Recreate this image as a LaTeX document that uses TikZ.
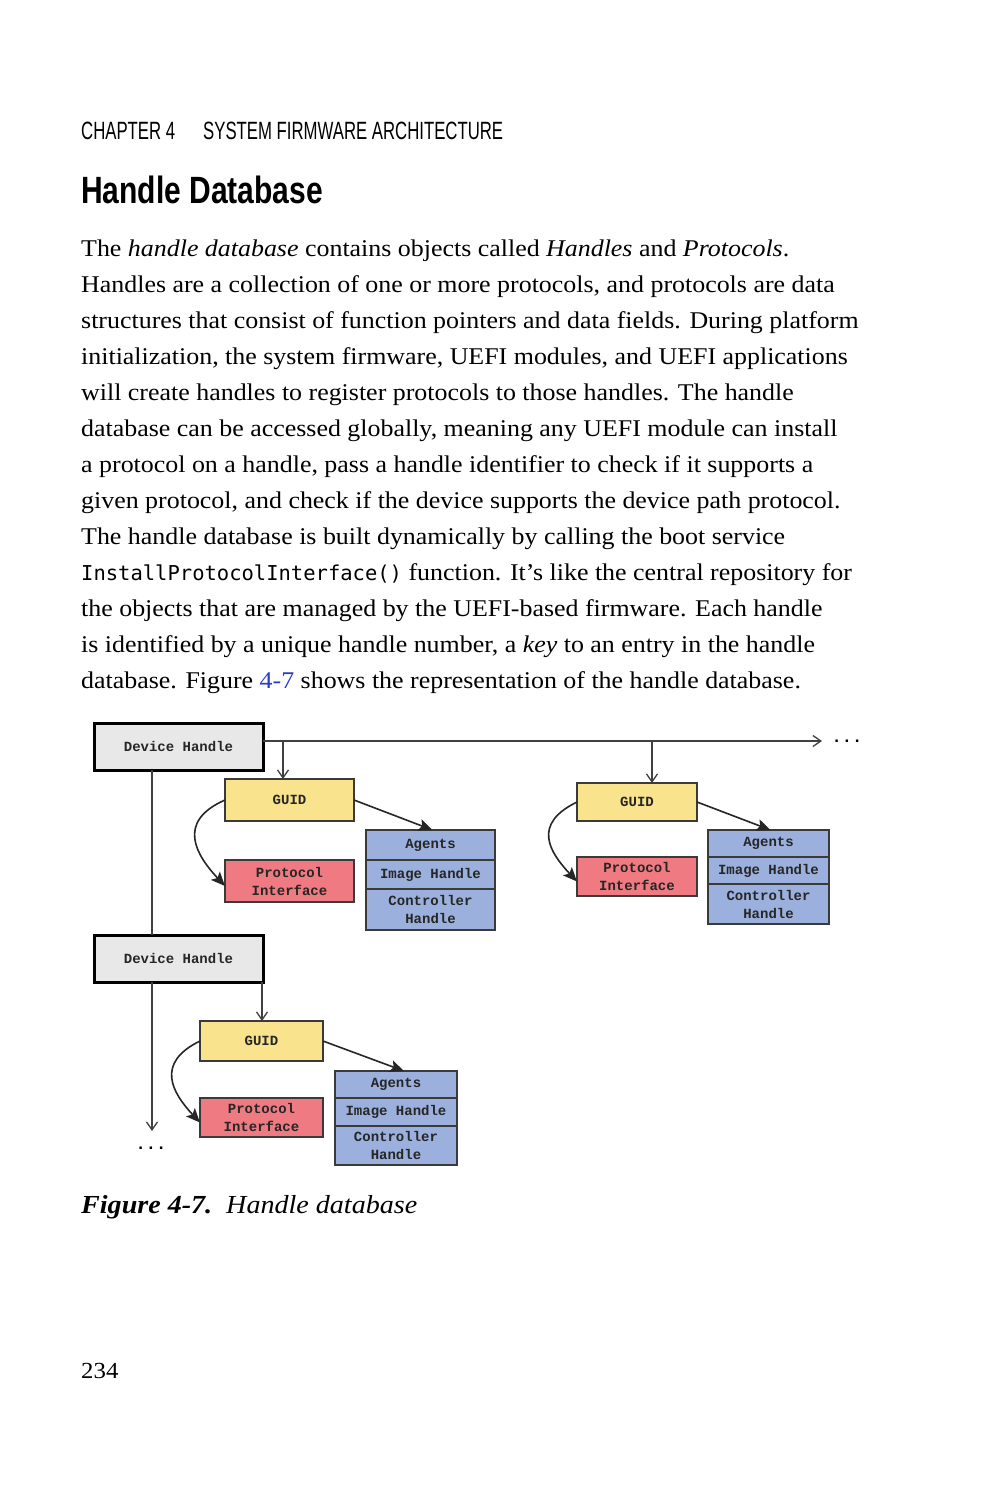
\documentclass[tikz,border=0pt]{standalone}
\usepackage{fontspec}
\usepackage{xcolor}
\setmainfont[FakeStretch=1.08]{Liberation Serif}
\setmonofont{Liberation Mono}
\newfontfamily\headfont[FakeStretch=0.67]{Liberation Sans}
\newfontfamily\sectfont[FakeStretch=0.79]{Liberation Sans}
\newfontfamily\codefont{DejaVu Sans Mono}
\usetikzlibrary{positioning,arrows.meta}

\definecolor{guidyellow}{HTML}{F9E38C}
\definecolor{protored}{HTML}{EF7A81}
\definecolor{agentblue}{HTML}{9BB0DC}
\definecolor{handlegray}{HTML}{E8E8E8}
\definecolor{linkblue}{HTML}{2B3BC9}
\definecolor{boxline}{HTML}{3A3A3A}

\begin{document}
\begin{tikzpicture}[x=1pt,y=-1pt,
    body line/.style={anchor=base west,inner sep=0pt,font=\fontsize{24}{36}\selectfont},
    box/.style={draw=boxline,line width=1.3pt,outer sep=0pt,inner sep=1pt,align=center,
        font=\ttfamily\bfseries\fontsize{14}{18}\selectfont,text=black!85},
    handle node/.style={box,draw=black,line width=3pt,fill=handlegray,minimum width=169pt,minimum height=47pt},
    guid node/.style={box,fill=guidyellow,minimum width=129pt,minimum height=42pt},
    proto node/.style={box,fill=protored,minimum width=129pt,minimum height=42pt},
    agent node/.style={box,fill=agentblue,minimum width=129pt},
    plain link/.style={draw=black!75,line width=1.3pt},
    open link/.style={plain link,-{Straight Barb[length=8pt,width=11pt]}},
    fat link/.style={draw=black!85,line width=1.6pt,-{Stealth[length=14pt,width=12pt,inset=3pt]}},
    dots/.style={font=\ttfamily\bfseries\fontsize{17}{18}\selectfont}]

    \useasboundingbox[fill=white] (0,0) rectangle (989,1500);

    % page text
    \node[anchor=base west,inner sep=0pt,font=\headfont\fontsize{25}{30}\selectfont] (chap) at (81,139) {CHAPTER 4};
    \node[anchor=base west,inner sep=0pt,font=\headfont\fontsize{25}{30}\selectfont] (title) at (203,139) {SYSTEM FIRMWARE ARCHITECTURE};
    \node[anchor=base west,inner sep=0pt,font=\sectfont\bfseries\fontsize{38}{40}\selectfont] (section) at (81,203) {Handle Database};

    \foreach \txt [count=\i from 0] in {
        {The \textit{handle database} contains objects called \textit{Handles} and \textit{Protocols}.},
        {Handles are a collection of one or more protocols, and protocols are data},
        {structures that consist of function pointers and data fields. During platform},
        {initialization, the system firmware, UEFI modules, and UEFI applications},
        {will create handles to register protocols to those handles. The handle},
        {database can be accessed globally, meaning any UEFI module can install},
        {a protocol on a handle, pass a handle identifier to check if it supports a},
        {given protocol, and check if the device supports the device path protocol.},
        {The handle database is built dynamically by calling the boot service},
        {{\codefont\fontsize{20.5}{36}\selectfont InstallProtocolInterface()} function. It's like the central repository for},
        {the objects that are managed by the UEFI-based firmware. Each handle},
        {is identified by a unique handle number, a \textit{key} to an entry in the handle},
        {database. Figure \textcolor{linkblue}{4-7} shows the representation of the handle database.}}
        \node[body line] (line\i) at (81,256+36*\i) {\txt};

    % diagram
    \node[handle node] (dh1) at (178.5,746.5) {Device Handle};
    \node[handle node] (dh2) at (178.5,958.5) {Device Handle};

    \node[guid node] (guid1) at (289.5,800) {GUID};
    \node[proto node] (proto1) at (289.5,881) {Protocol\\Interface};
    \node[agent node,minimum height=30pt] (agents1) at (430.5,845) {Agents};
    \node[agent node,minimum height=29pt] (image1) [below=0pt of agents1] {Image Handle};
    \node[agent node,minimum height=41pt] (ctrl1) [below=0pt of image1] {Controller\\Handle};

    \node[guid node,minimum width=120pt,minimum height=38pt] (guid2) at (637,802) {GUID};
    \node[proto node,minimum width=120pt,minimum height=39pt] (proto2) at (637,876.5) {Protocol\\Interface};
    \node[agent node,minimum width=121pt,minimum height=27pt] (agents2) at (768.5,843.5) {Agents};
    \node[agent node,minimum width=121pt,minimum height=27pt] (image2) [below=0pt of agents2] {Image Handle};
    \node[agent node,minimum width=121pt,minimum height=40pt] (ctrl2) [below=0pt of image2] {Controller\\Handle};

    \node[guid node,minimum width=123pt,minimum height=40pt] (guid3) at (261.5,1041) {GUID};
    \node[proto node,minimum width=123pt,minimum height=39pt] (proto3) at (261.5,1117.5) {Protocol\\Interface};
    \node[agent node,minimum width=122pt,minimum height=27pt] (agents3) at (396,1084.5) {Agents};
    \node[agent node,minimum width=122pt,minimum height=28pt] (image3) [below=0pt of agents3] {Image Handle};
    \node[agent node,minimum width=122pt,minimum height=39pt] (ctrl3) [below=0pt of image3] {Controller\\Handle};

    \coordinate (more1) at (822,741);
    \coordinate (more2) at (152,1131);
    \coordinate (tap1) at (283,741);
    \coordinate (tap2) at (652,741);
    \coordinate (tap3) at (262,982);
    \node[dots] (dots1) at (847,741) {...};
    \node[dots] (dots2) at (151,1148) {...};

    \draw[open link] (dh1.east |- more1) -- (more1);
    \draw[open link] (tap1) -- (tap1 |- guid1.north);
    \draw[open link] (tap2) -- (tap2 |- guid2.north);
    \draw[plain link] (dh1.south -| more2) -- (dh2.north -| more2);
    \draw[open link] (dh2.south -| more2) -- (more2);
    \draw[open link] (tap3) -- (tap3 |- guid3.north);

    \draw[fat link] (guid1.east) -- ([xshift=2pt]agents1.north);
    \draw[fat link] (guid2.east) -- ([xshift=2pt]agents2.north);
    \draw[fat link] (guid3.east) -- ([xshift=8pt]agents3.north);

    \draw[fat link] (guid1.west) .. controls +(-50,22) and +(-28,-30) .. ([yshift=-5pt]proto1.west);
    \draw[fat link] (guid2.west) .. controls +(-45,22) and +(-28,-30) .. ([yshift=-5pt]proto2.west);
    \draw[fat link] (guid3.west) .. controls +(-45,22) and +(-28,-30) .. ([yshift=-5pt]proto3.west);

    % caption and folio
    \node[anchor=base west,inner sep=0pt,font=\fontsize{26}{30}\selectfont] (caption) at (81,1213)
        {\textbf{\textit{Figure 4-7.}}\hspace{14pt}\textit{Handle database}};
    \node[anchor=base west,inner sep=0pt,font=\fontsize{23}{28}\selectfont] (folio) at (81,1378) {234};
\end{tikzpicture}
\end{document}
